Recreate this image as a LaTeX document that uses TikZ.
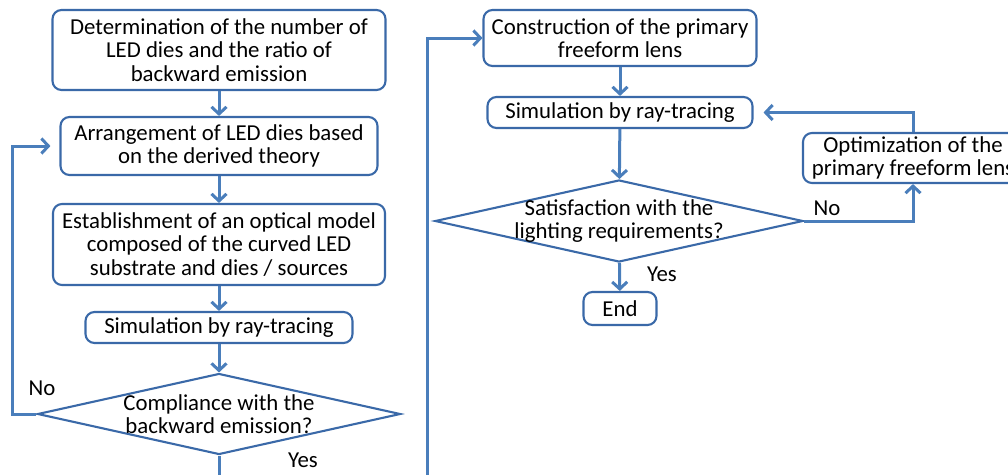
\documentclass[tikz,border=0pt]{standalone}
\usepackage{fontspec}
\setmainfont{Carlito}
\usetikzlibrary{shapes.geometric,arrows.meta}

\definecolor{boxblue}{HTML}{3A69A8}
\definecolor{lineblue}{HTML}{4A7EBB}

\begin{document}
\begin{tikzpicture}[x=1pt, y=-1pt]
        \clip (0,0) rectangle (1008,474);
        \useasboundingbox (0,0) rectangle (1008,474);

        \begin{scope}[%
            every node/.style = {%
                draw = boxblue,
                line width = 2.1pt,
                rounded corners = 9pt,
                align = center,
                inner sep = 1pt,
                font = \fontsize{22.8}{23.5}\selectfont
            }
        ]

            % Steps (boxes) of the flowchart.
            \node[minimum width=333pt, minimum height=80pt] (det) at (219,50)
                {Determination of the number of\\LED dies and the ratio of\\backward emission};
            \node[minimum width=317pt, minimum height=58pt] (arr) at (219,146)
                {Arrangement of LED dies based\\on the derived theory};
            \node[minimum width=332pt, minimum height=81pt] (est) at (219,244.5)
                {Establishment of an optical model\\composed of the curved LED\\substrate and dies / sources};
            \node[minimum width=267pt, minimum height=31pt] (simA) at (219,327.5)
                {Simulation by ray-tracing};
            \node[minimum width=273pt, minimum height=56pt] (cons) at (620,38)
                {Construction of the primary\\freeform lens};
            \node[minimum width=265pt, minimum height=31pt] (simB) at (620,112.5)
                {Simulation by ray-tracing};
            \node[minimum width=220pt, minimum height=50pt] (opt) at (913,158)
                {Optimization of the\\primary freeform lens};
            \node[minimum width=73pt, minimum height=33pt] (finish) at (620,308.5)
                {End};
        \end{scope}

        \begin{scope}[%
            every node/.style = {%
                diamond,
                aspect = 4.5,
                draw = boxblue,
                line width = 2.1pt,
                align = center,
                inner xsep = -30pt,
                inner ysep = -8pt,
                font = \fontsize{22.8}{22.5}\selectfont
            }
        ]

            % Decisions of the flowchart.
            \node[minimum width=363pt, minimum height=81pt] (comp) at (219,414)
                {Compliance with the\\backward emission?};
            \node[minimum width=368pt, minimum height=82pt] (sat) at (619,221)
                {Satisfaction with the\\lighting requirements?};
        \end{scope}

        % Corners of the loops.
        \coordinate (noleft) at (12,414);
        \coordinate (yesturn) at (427,520);

        % Labels on the branches.
        \begin{scope}[every node/.style = {font = \fontsize{22.8}{23.5}\selectfont}]
            \node (noA) at (42,388) {No};
            \node (yesA) at (303,460) {Yes};
            \node (noB) at (827,208) {No};
            \node (yesB) at (662,274) {Yes};
        \end{scope}

        \begin{scope}[%
            > = {Straight Barb[length=7pt, width=15pt]},
            link/.style = {%
                draw = lineblue,
                line width = 3pt
            },
            every edge/.style = {link}
        ]

            % Edges of the flowchart.
            \path [->] (det) edge (arr);
            \path [->] (arr) edge (est);
            \path [->] (est) edge (simA);
            \path [->] (simA) edge (comp);
            \path [->] (cons) edge (simB);
            \path [->] (simB) edge (sat);
            \path [->] (sat) edge (finish);
            \draw [->, link, shorten >= 9pt] (comp.west) -- (noleft) |- (arr.west);
            \draw [->, link] (comp.south) |- (yesturn) |- (cons.west);
            \draw [->, link] (sat.east) -| (opt.south);
            \draw [->, link, shorten >= 10pt] (opt.north) |- (simB.east);
        \end{scope}
    \end{tikzpicture}
\end{document}
